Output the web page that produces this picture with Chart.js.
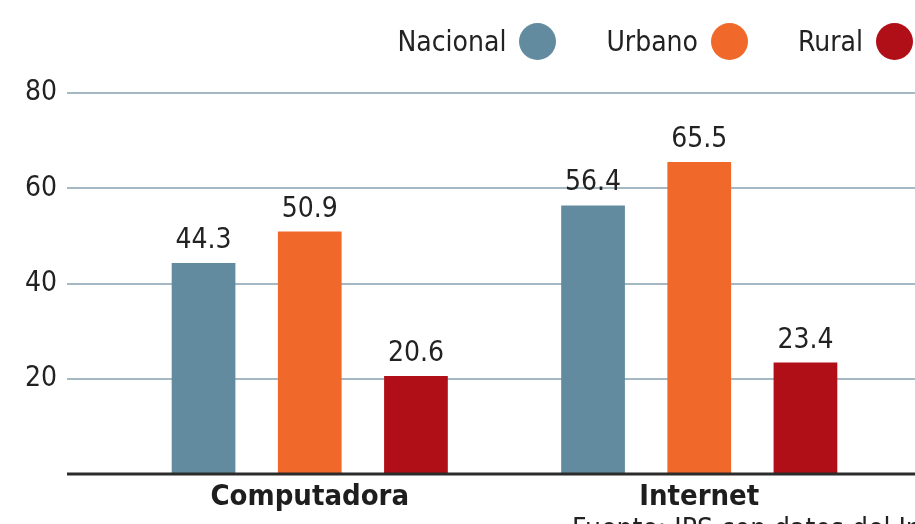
<!DOCTYPE html>
<html>
<head>
<meta charset="utf-8">
<script src="https://cdn.jsdelivr.net/npm/chart.js@4/dist/chart.umd.min.js"></script>
<style>
    html, body { margin: 0; padding: 0; background: #fff; }
    #wrap { position: relative; width: 915px; height: 524px; overflow: hidden; }
    #legend { position: absolute; top: 23px; right: 2px; display: flex; align-items: center;
        font-family: "Liberation Sans Narrow", "DejaVu Sans Condensed", "Roboto", sans-serif; font-size: 28px; color: #222; }
    #legend .item { display: flex; align-items: center; margin-left: 50px; }
    #legend .dot { width: 37px; height: 37px; border-radius: 50%; margin-left: 13px; }
    #source { position: absolute; left: 572px; top: 512px; white-space: nowrap;
        font-family: "Liberation Sans Narrow", "DejaVu Sans Condensed", "Roboto", sans-serif; font-size: 28px; color: #222; }
</style>
</head>
<body>
<div id="wrap">
    <canvas id="chart" width="915" height="524"></canvas>
    <div id="legend"></div>
    <div id="source">Fuente: IPS con datos del Inegi</div>
</div>
<script>
const categories = ['Computadora', 'Internet'];
const seriesNames = ['Nacional', 'Urbano', 'Rural'];
const nacional = [44.3, 56.4];
const urbano = [50.9, 65.5];
const rural = [20.6, 23.4];
const yTickValues = [20, 40, 60, 80];
const seriesColors = ['#638b9f', '#f0682a', '#b10f17'];

const fontFamily = '"Liberation Sans Narrow", "DejaVu Sans Condensed", "Roboto", sans-serif';

// legend: label first, then the dot
const legendBox = document.getElementById('legend');
seriesNames.forEach((name, i) => {
    const item = document.createElement('div');
    item.className = 'item';
    item.innerHTML = `<span>${name}</span><span class="dot" style="background:${seriesColors[i]}"></span>`;
    legendBox.appendChild(item);
});

// grid lines run wider than the plot area
const gridPlugin = {
    id: 'wideGrid',
    beforeDatasetsDraw(chart) {
        const ctx = chart.ctx;
        const y = chart.scales.y;
        ctx.save();
        ctx.strokeStyle = '#a5b9c4';
        ctx.lineWidth = 2;
        for (const v of yTickValues) {
            const py = Math.round(y.getPixelForValue(v));
            ctx.beginPath();
            ctx.moveTo(67, py);
            ctx.lineTo(915, py);
            ctx.stroke();
        }
        ctx.restore();
    },
    afterDatasetsDraw(chart) {
        const ctx = chart.ctx;
        const y = chart.scales.y;
        ctx.save();
        // base line
        const py = y.getPixelForValue(0);
        ctx.strokeStyle = '#2b2b2b';
        ctx.lineWidth = 3;
        ctx.beginPath();
        ctx.moveTo(67, py);
        ctx.lineTo(915, py);
        ctx.stroke();

        // values above the bars
        ctx.fillStyle = '#222';
        ctx.font = '28px ' + fontFamily;
        ctx.textAlign = 'center';
        ctx.textBaseline = 'alphabetic';
        chart.data.datasets.forEach((ds, di) => {
            chart.getDatasetMeta(di).data.forEach((bar, i) => {
                ctx.fillText(ds.data[i].toFixed(1), bar.x, bar.y - 15);
            });
        });
        ctx.restore();
    }
};

const ctx = document.getElementById('chart').getContext('2d');
new Chart(ctx, {
    type: 'bar',
    data: {
        labels: categories,
        datasets: [
            { label: seriesNames[0], data: nacional, backgroundColor: seriesColors[0] },
            { label: seriesNames[1], data: urbano, backgroundColor: seriesColors[1] },
            { label: seriesNames[2], data: rural, backgroundColor: seriesColors[2] },
        ]
    },
    options: {
        responsive: false,
        animation: false,
        layout: {
            padding: { top: 93, right: 21, left: 25, bottom: 0 }
        },
        datasets: {
            bar: {
                barPercentage: 0.6,
                categoryPercentage: 0.818,
                borderWidth: 0,
            }
        },
        plugins: {
            legend: { display: false },
            title: { display: false },
            tooltip: { enabled: false }
        },
        scales: {
            x: {
                grid: { display: false, drawTicks: false },
                border: { display: false },
                ticks: {
                    color: '#1e1e1e',
                    padding: 6,
                    font: { family: fontFamily, size: 29, weight: 'bold' }
                },
                afterFit(scale) { scale.height = 50; }
            },
            y: {
                min: 0,
                max: 80,
                grid: { display: false, drawTicks: false },
                border: { display: false },
                afterBuildTicks(scale) {
                    scale.ticks = yTickValues.map(v => ({ value: v }));
                },
                ticks: {
                    color: '#222',
                    padding: 4,
                    crossAlign: 'far',
                    font: { family: fontFamily, size: 28 }
                },
                afterFit(scale) { scale.width = 90; }
            }
        }
    },
    plugins: [gridPlugin]
});
</script>
</body>
</html>
